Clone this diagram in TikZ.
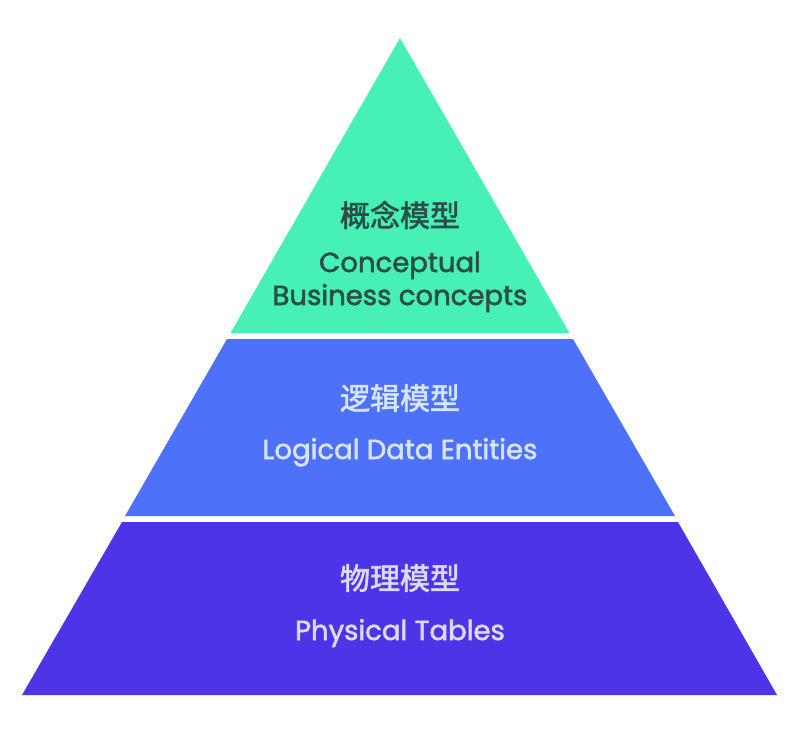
\documentclass[tikz,border=0pt]{standalone}
\usepackage{fontspec}
\setmainfont[FakeBold=2]{Poppins}
\newfontfamily\cjk[FakeBold=2]{Noto Sans CJK SC}
\definecolor{cgreen}{HTML}{47F0B4}
\definecolor{cblue}{HTML}{4E71FA}
\definecolor{cpurple}{HTML}{4B35E6}
\definecolor{tdark}{HTML}{2B4E4A}
\definecolor{tlblue}{HTML}{D6E4FF}
\definecolor{tlpurple}{HTML}{DCDBFF}
\begin{document}
\begin{tikzpicture}[x=1pt,y=-1pt,
  cn/.style={font=\cjk\fontsize{30}{34}\selectfont, inner sep=0pt},
  en/.style={font=\fontsize{27.5}{32}\selectfont, inner sep=0pt}]
\useasboundingbox (0,0) rectangle (800,742);
\fill[white] (0,0) rectangle (800,742);
% triangle apex (400,38), base y=695 from 22 to 777
\fill[cgreen] (400,38) -- (569.5,333) -- (230.5,333) -- cycle;
\fill[cblue] (227,339) -- (573,339) -- (675,516) -- (125,516) -- cycle;
\fill[cpurple] (122,522) -- (678,522) -- (777,695) -- (22,695) -- cycle;
\node[cn, text=tdark] (c1) at (400,215) {概念模型};
\node[en, text=tdark, anchor=base] (e1) at (400,272) {Conceptual};
\node[en, text=tdark, anchor=base] (e2) at (400,305) {Business concepts};
\node[cn, text=tlblue] (c2) at (400,398) {逻辑模型};
\node[en, text=tlblue, anchor=base] (e3) at (400,459) {Logical Data Entities};
\node[cn, text=tlpurple] (c3) at (400,578) {物理模型};
\node[en, text=tlpurple, anchor=base] (e4) at (400,640) {Physical Tables};
\end{tikzpicture}
\end{document}
